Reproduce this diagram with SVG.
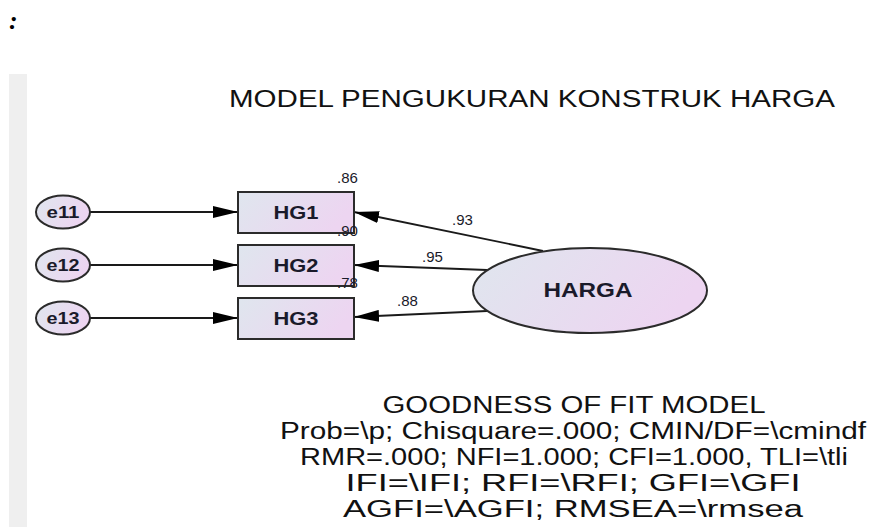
<svg xmlns="http://www.w3.org/2000/svg" width="871" height="527" viewBox="0 0 871 527">
<style>
.shape{fill:url(#g);stroke:#2b2b2b;stroke-width:2}
.lbl{font-family:"Liberation Sans",Arial,sans-serif;font-weight:bold;fill:#1a1a2a;text-anchor:middle}
.num{font-family:"Liberation Sans",Arial,sans-serif;font-size:15px;fill:#1a1a2a}
.txt{font-family:"Liberation Sans",Arial,sans-serif;font-size:23.5px;fill:#111;text-anchor:middle}
.edge{stroke:#1a1a1a;stroke-width:1.8;fill:none;marker-end:url(#arr)}
</style>
<defs>
<linearGradient id="g" x1="0" y1="0" x2="1" y2="0.3">
<stop offset="0" stop-color="#dfe6ee"/>
<stop offset="1" stop-color="#edd5f1"/>
</linearGradient>
<marker id="arr" markerUnits="userSpaceOnUse" markerWidth="26" markerHeight="12" refX="25" refY="6" orient="auto">
<path d="M0,0 L25,6 L0,12 Z" fill="#000"/>
</marker>
</defs>
<rect width="871" height="527" fill="#fff"/>
<rect x="9" y="74" width="18" height="453" fill="#efefef"/>
<text x="9" y="29" font-family="Liberation Serif,serif" font-style="italic" font-weight="bold" font-size="26" fill="#000">:</text>
<text class="txt" x="532" y="107" font-size="23" textLength="606" lengthAdjust="spacingAndGlyphs">MODEL PENGUKURAN KONSTRUK HARGA</text>
<g id="connectors">
<line class="edge" x1="89" y1="212" x2="238" y2="212"/>
<line class="edge" x1="89" y1="265" x2="238" y2="265"/>
<line class="edge" x1="89" y1="318" x2="238" y2="318"/>
<line class="edge" x1="543" y1="251" x2="354" y2="212"/>
<line class="edge" x1="487" y1="270" x2="354" y2="265"/>
<line class="edge" x1="487" y1="311" x2="354" y2="317"/>
</g>
<g id="e11"><ellipse class="shape" cx="63" cy="212" rx="27" ry="16.5"/><text class="lbl" x="63" y="218" font-size="16" textLength="33" lengthAdjust="spacingAndGlyphs">e11</text></g>
<g id="e12"><ellipse class="shape" cx="63" cy="265" rx="27" ry="16.5"/><text class="lbl" x="63" y="271" font-size="16" textLength="33" lengthAdjust="spacingAndGlyphs">e12</text></g>
<g id="e13"><ellipse class="shape" cx="63" cy="318" rx="27" ry="16.5"/><text class="lbl" x="63" y="324" font-size="16" textLength="33" lengthAdjust="spacingAndGlyphs">e13</text></g>
<g id="HG1"><rect class="shape" x="238" y="192" width="116" height="41"/><text class="lbl" x="296" y="219" font-size="18" textLength="45" lengthAdjust="spacingAndGlyphs">HG1</text><text class="num" x="337" y="183">.86</text></g>
<g id="HG2"><rect class="shape" x="238" y="245" width="116" height="41"/><text class="lbl" x="296" y="272" font-size="18" textLength="45" lengthAdjust="spacingAndGlyphs">HG2</text><text class="num" x="337" y="236">.90</text></g>
<g id="HG3"><rect class="shape" x="238" y="298" width="116" height="41"/><text class="lbl" x="296" y="325" font-size="18" textLength="45" lengthAdjust="spacingAndGlyphs">HG3</text><text class="num" x="337" y="288">.78</text></g>
<g id="HARGA"><ellipse class="shape" cx="590" cy="290.5" rx="117" ry="42.5"/><text class="lbl" x="588" y="297" font-size="20" textLength="89" lengthAdjust="spacingAndGlyphs">HARGA</text></g>
<g id="loadings">
<text class="num" x="452" y="225">.93</text>
<text class="num" x="422" y="262">.95</text>
<text class="num" x="397" y="306">.88</text>
</g>
<g id="fit">
<text class="txt" x="574" y="413" textLength="383" lengthAdjust="spacingAndGlyphs">GOODNESS OF FIT MODEL</text>
<text class="txt" x="573" y="439" textLength="586" lengthAdjust="spacingAndGlyphs">Prob=\p; Chisquare=.000; CMIN/DF=\cmindf</text>
<text class="txt" x="574" y="465" textLength="548" lengthAdjust="spacingAndGlyphs">RMR=.000; NFI=1.000; CFI=1.000, TLI=\tli</text>
<text class="txt" x="573" y="491" textLength="455" lengthAdjust="spacingAndGlyphs">IFI=\IFI; RFI=\RFI; GFI=\GFI</text>
<text class="txt" x="573" y="517" textLength="460" lengthAdjust="spacingAndGlyphs">AGFI=\AGFI; RMSEA=\rmsea</text>
</g>
</svg>
